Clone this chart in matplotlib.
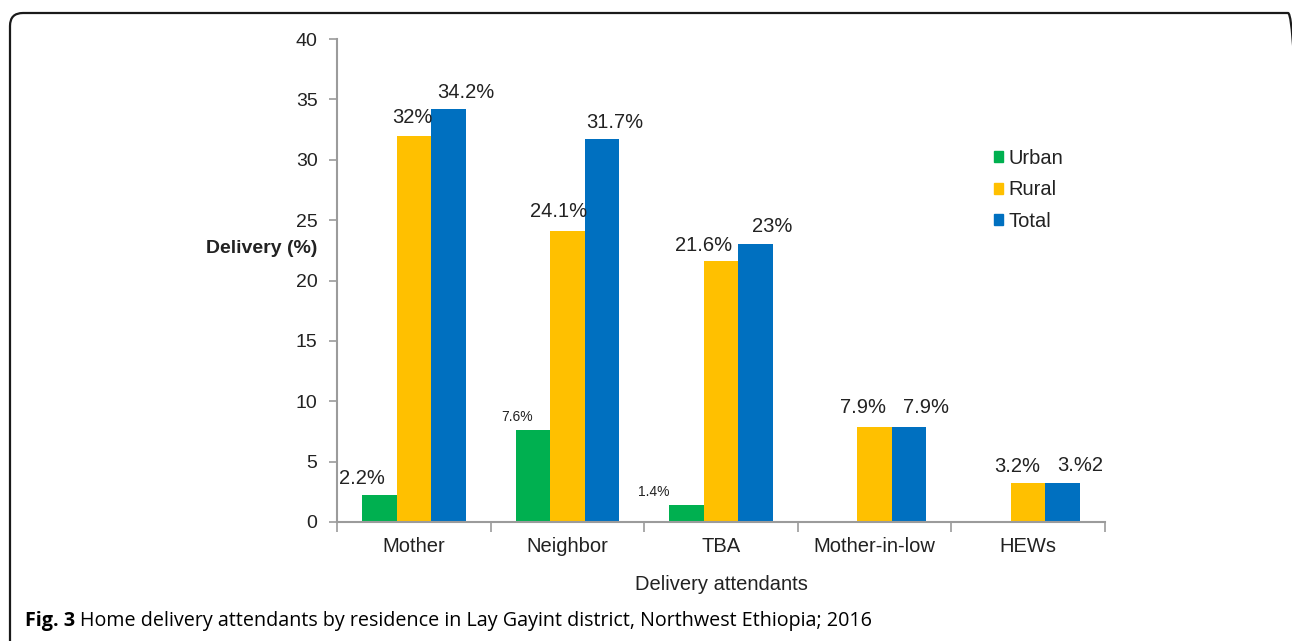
import numpy as np
import matplotlib
matplotlib.use("Agg")
import matplotlib.pyplot as plt
from matplotlib.patches import Patch, FancyBboxPatch
from matplotlib.transforms import IdentityTransform

# ================= DATA =================

categories = ["Mother", "Neighbor", "TBA", "Mother-in-low", "HEWs"]
series = ["Urban", "Rural", "Total"]
urban = [2.2, 7.6, 1.4, 0, 0]
rural = [32, 24.1, 21.6, 7.9, 3.2]
total = [34.2, 31.7, 23, 7.9, 3.2]
urban_labels = ["2.2%", "7.6%", "1.4%", "", ""]
rural_labels = ["32%", "24.1%", "21.6%", "7.9%", "3.2%"]
total_labels = ["34.2%", "31.7%", "23%", "7.9%", "3.%2"]
yticks = [0, 5, 10, 15, 20, 25, 30, 35, 40]

# ================= STYLE =================

colors = ["#00B050", "#FFC000", "#0070C0"]
txt = "#222222"
axis_gray = "#9b9b9b"
big = 14.5
small = 10

# label offsets in pixels (dx, dy) from each bar top
urban_off = [(-17, 17), (-16, 13), (-33, 13), (0, 0), (0, 0)]
urban_fs = [big, small, small, small, small]
rural_off = [(-1, 18), (-9, 19), (-17, 16), (-12, 19), (-11, 17)]
total_off = [(17, 17), (13, 17), (17, 18), (17, 19), (17, 18)]

plt.rcParams["font.family"] = ["Liberation Sans", "DejaVu Sans"]

fig = plt.figure(figsize=(12.92, 6.41), dpi=100)
W, H = 1292, 641
ax = fig.add_axes([337 / W, 1 - 522 / H, (1105 - 337) / W, (522 - 39) / H])

x = np.arange(len(categories))
bw = 0.225
groups = [(urban, urban_labels, urban_off, urban_fs),
          (rural, rural_labels, rural_off, [big] * 5),
          (total, total_labels, total_off, [big] * 5)]

for i, (vals, labs, offs, fss) in enumerate(groups):
    xs = x + (i - 1) * bw
    ax.bar(xs, vals, width=bw, color=colors[i], label=series[i], linewidth=0)
    for xi, v, lab, off, fs in zip(xs, vals, labs, offs, fss):
        if not lab:
            continue
        ax.annotate(lab, (xi, v), xytext=off, textcoords="offset pixels",
                    ha="center", va="center", fontsize=fs, color=txt)

ax.set_xlim(-0.5, len(categories) - 0.5)
ax.set_ylim(0, 40)
ax.set_yticks(yticks)
ax.tick_params(axis="y", labelsize=14, colors=axis_gray, labelcolor=txt,
               length=6, width=1.2, pad=8)

# ticks at group boundaries, labels at group centres
ax.set_xticks(np.arange(len(categories) + 1) - 0.5)
ax.set_xticklabels([])
ax.tick_params(axis="x", which="major", length=7, width=1.2, colors=axis_gray)
ax.set_xticks(x, minor=True)
ax.set_xticklabels(categories, minor=True)
ax.tick_params(axis="x", which="minor", length=0, labelsize=big,
               labelcolor=txt, pad=11)

for s in ["top", "right"]:
    ax.spines[s].set_visible(False)
for s in ["left", "bottom"]:
    ax.spines[s].set_color(axis_gray)
    ax.spines[s].set_linewidth(1.5)

fig.text(317 / W, 1 - 248 / H, "Delivery (%)", ha="right", va="center",
         fontsize=14, fontweight="bold", color=txt)
fig.text(721 / W, 1 - 585 / H, "Delivery attendants", ha="center",
         va="center", fontsize=big, color=txt)

handles = [Patch(color=c, label=s) for c, s in zip(colors, series)]
fig.legend(handles=handles, loc="upper left",
           bbox_to_anchor=(994 / W, 1 - 149 / H), frameon=False,
           fontsize=big, handlelength=0.45, handleheight=0.45,
           handletextpad=0.25, labelspacing=0.62, borderpad=0,
           borderaxespad=0, labelcolor=txt)

# caption
cap_y = 1 - 621 / H
cap_fs = 14.2
t1 = fig.text(25 / W, cap_y, "Fig. 3", ha="left", va="center",
              fontsize=cap_fs, fontweight="bold", family=["Open Sans", "DejaVu Sans"])
fig.canvas.draw()
bb = t1.get_window_extent()
fig.text((bb.x1 + 5) / W, cap_y,
         "Home delivery attendants by residence in Lay Gayint district, Northwest Ethiopia; 2016",
         ha="left", va="center", fontsize=cap_fs, family=["Open Sans", "DejaVu Sans"])

# rounded frame, drawn in pixels (right side runs off the image)
frame = FancyBboxPatch((10, -60), 1291, H - 13 + 60,
                       boxstyle="round,pad=0,rounding_size=13",
                       transform=IdentityTransform(), fill=False,
                       edgecolor="#1a1a1a", linewidth=1.6, clip_on=False)
fig.patches.append(frame)

fig.savefig("out.png", dpi=100)
